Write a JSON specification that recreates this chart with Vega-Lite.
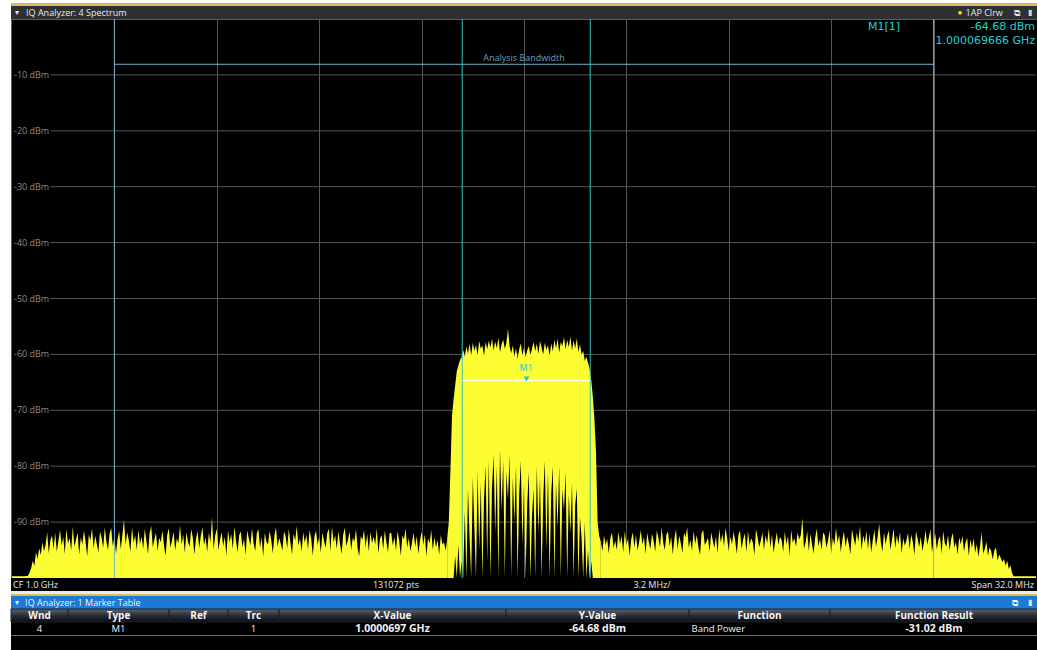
{
"padding": {"left": 10, "top": 3, "right": 0, "bottom": 0},
"background": "#ffffff",
"spacing": 0,
"bounds": "flush",
"config": {"view": {"stroke": null}, "concat": {"spacing": 0}, "text": {"font": "Open Sans"}},
"datasets": {
"noise": [
{"f":-16,"h":-99.7},{"f":-15.9,"h":-99.7},{"f":-15.8,"h":-99.7},{"f":-15.7,"h":-99.7},{"f":-15.6,"h":-99.7},{"f":-15.5,"h":-99.6},{"f":-15.45,"h":-99},{"f":-15.4,"h":-98.2},{"f":-15.35,"h":-96.9},{"f":-15.3,"h":-97.8},{"f":-15.25,"h":-95.4},{"f":-15.2,"h":-96.6},{"f":-15.15,"h":-94.7},{"f":-15.1,"h":-95.9},{"f":-15.05,"h":-93.6},{"f":-15,"h":-95.2},{"f":-14.95,"h":-94.1},{"f":-14.9,"h":-91.8},{"f":-14.85,"h":-95.6},{"f":-14.8,"h":-93.2},{"f":-14.75,"h":-92.4},{"f":-14.7,"h":-94.8},{"f":-14.65,"h":-91.9},{"f":-14.6,"h":-95.3},{"f":-14.55,"h":-93.4},{"f":-14.5,"h":-91.4},
{"f":-14.45,"h":-94.2},{"f":-14.4,"h":-92.6},{"f":-14.35,"h":-95.7},{"f":-14.3,"h":-91.3},{"f":-14.25,"h":-93.8},{"f":-14.2,"h":-92.9},{"f":-14.15,"h":-95.1},{"f":-14.1,"h":-90.8},{"f":-14.05,"h":-94.4},{"f":-14,"h":-93.1},
{"f":-13.95,"h":-91.9},{"f":-13.9,"h":-95.8},{"f":-13.85,"h":-92.7},{"f":-13.8,"h":-94},{"f":-13.75,"h":-91.5},{"f":-13.7,"h":-93.6},{"f":-13.65,"h":-96.1},{"f":-13.6,"h":-92.2},{"f":-13.55,"h":-93.3},{"f":-13.5,"h":-91.1},
{"f":-13.45,"h":-94.7},{"f":-13.4,"h":-92.5},{"f":-13.35,"h":-93.9},{"f":-13.3,"h":-95.4},{"f":-13.25,"h":-91.7},{"f":-13.2,"h":-92.8},{"f":-13.15,"h":-94.6},{"f":-13.1,"h":-90.9},{"f":-13.05,"h":-93.5},{"f":-13,"h":-95},
{"f":-12.95,"h":-92.1},{"f":-12.9,"h":-91},{"f":-12.85,"h":-94.3},{"f":-12.8,"h":-92.7},{"f":-12.75,"h":-95.6},{"f":-12.7,"h":-93},{"f":-12.65,"h":-91.6},{"f":-12.6,"h":-94.9},{"f":-12.55,"h":-92.3},{"f":-12.5,"h":-89.6},
{"f":-12.45,"h":-94.1},{"f":-12.4,"h":-91.8},{"f":-12.35,"h":-93.2},{"f":-12.3,"h":-95.3},{"f":-12.25,"h":-90.9},{"f":-12.2,"h":-93.7},{"f":-12.15,"h":-92.4},{"f":-12.1,"h":-95},{"f":-12.05,"h":-91.4},{"f":-12,"h":-93.9},
{"f":-11.95,"h":-92.6},{"f":-11.9,"h":-94.8},{"f":-11.85,"h":-91.2},{"f":-11.8,"h":-93.4},{"f":-11.75,"h":-95.7},{"f":-11.7,"h":-92},{"f":-11.65,"h":-90.7},{"f":-11.6,"h":-94.5},{"f":-11.55,"h":-93.1},{"f":-11.5,"h":-91.9},
{"f":-11.45,"h":-95.2},{"f":-11.4,"h":-92.8},{"f":-11.35,"h":-93.6},{"f":-11.3,"h":-91.5},{"f":-11.25,"h":-94.2},{"f":-11.2,"h":-96},{"f":-11.15,"h":-92.3},{"f":-11.1,"h":-91.1},{"f":-11.05,"h":-94.6},{"f":-11,"h":-93.3},
{"f":-10.95,"h":-91.7},{"f":-10.9,"h":-95.1},{"f":-10.85,"h":-92.9},{"f":-10.8,"h":-93.8},{"f":-10.75,"h":-90.6},{"f":-10.7,"h":-94},{"f":-10.65,"h":-92.2},{"f":-10.6,"h":-95.5},{"f":-10.55,"h":-91.8},{"f":-10.5,"h":-93.5},
{"f":-10.45,"h":-94.4},{"f":-10.4,"h":-91.3},{"f":-10.35,"h":-92.7},{"f":-10.3,"h":-95.8},{"f":-10.25,"h":-93},{"f":-10.2,"h":-91.6},{"f":-10.15,"h":-94.7},{"f":-10.1,"h":-92.5},{"f":-10.05,"h":-90.9},{"f":-10,"h":-94.1},
{"f":-9.95,"h":-92.8},{"f":-9.9,"h":-95.3},{"f":-9.85,"h":-91.9},{"f":-9.8,"h":-93.6},{"f":-9.75,"h":-89.1},{"f":-9.7,"h":-94.9},{"f":-9.65,"h":-92.4},{"f":-9.6,"h":-91.2},{"f":-9.55,"h":-95},{"f":-9.5,"h":-93.2},
{"f":-9.45,"h":-91.8},{"f":-9.4,"h":-94.3},{"f":-9.35,"h":-92.6},{"f":-9.3,"h":-96},{"f":-9.25,"h":-91.4},{"f":-9.2,"h":-93.7},{"f":-9.15,"h":-92.1},{"f":-9.1,"h":-94.8},{"f":-9.05,"h":-90.8},{"f":-9,"h":-93.4},
{"f":-8.95,"h":-95.4},{"f":-8.9,"h":-92.3},{"f":-8.85,"h":-91.7},{"f":-8.8,"h":-94.5},{"f":-8.75,"h":-93},{"f":-8.7,"h":-95.9},{"f":-8.65,"h":-91.5},{"f":-8.6,"h":-92.9},{"f":-8.55,"h":-94.2},{"f":-8.5,"h":-91.1},
{"f":-8.45,"h":-93.8},{"f":-8.4,"h":-95.2},{"f":-8.35,"h":-92},{"f":-8.3,"h":-91.3},{"f":-8.25,"h":-94.6},{"f":-8.2,"h":-92.7},{"f":-8.15,"h":-96.2},{"f":-8.1,"h":-91.9},{"f":-8.05,"h":-93.5},{"f":-8,"h":-94},
{"f":-7.95,"h":-91.6},{"f":-7.9,"h":-93.1},{"f":-7.85,"h":-95.6},{"f":-7.8,"h":-92.4},{"f":-7.75,"h":-90.9},{"f":-7.7,"h":-94.4},{"f":-7.65,"h":-92.8},{"f":-7.6,"h":-93.9},{"f":-7.55,"h":-95.1},{"f":-7.5,"h":-91.7},
{"f":-7.45,"h":-92.5},{"f":-7.4,"h":-94.7},{"f":-7.35,"h":-91.2},{"f":-7.3,"h":-93.6},{"f":-7.25,"h":-95.8},{"f":-7.2,"h":-92.1},{"f":-7.15,"h":-93.3},{"f":-7.1,"h":-90.7},{"f":-7.05,"h":-94.2},{"f":-7,"h":-92.9},
{"f":-6.95,"h":-95.3},{"f":-6.9,"h":-91.8},{"f":-6.85,"h":-93.7},{"f":-6.8,"h":-92.3},{"f":-6.75,"h":-94.9},{"f":-6.7,"h":-91.4},{"f":-6.65,"h":-93},{"f":-6.6,"h":-96},{"f":-6.55,"h":-92.6},{"f":-6.5,"h":-91.5},
{"f":-6.45,"h":-94.1},{"f":-6.4,"h":-92.7},{"f":-6.35,"h":-95.5},{"f":-6.3,"h":-91.9},{"f":-6.25,"h":-93.4},{"f":-6.2,"h":-94.6},{"f":-6.15,"h":-92},{"f":-6.1,"h":-91.2},{"f":-6.05,"h":-95.2},{"f":-6,"h":-90.8},
{"f":-5.95,"h":-93.6},{"f":-5.9,"h":-92.4},{"f":-5.85,"h":-94.8},{"f":-5.8,"h":-91.6},{"f":-5.75,"h":-93.9},{"f":-5.7,"h":-95.7},{"f":-5.65,"h":-92.2},{"f":-5.6,"h":-91},{"f":-5.55,"h":-94.3},{"f":-5.5,"h":-93.1},
{"f":-5.45,"h":-91.7},{"f":-5.4,"h":-95},{"f":-5.35,"h":-92.8},{"f":-5.3,"h":-93.5},{"f":-5.25,"h":-91.3},{"f":-5.2,"h":-94.7},{"f":-5.15,"h":-96.1},{"f":-5.1,"h":-92.5},{"f":-5.05,"h":-93.2},{"f":-5,"h":-91.4},
{"f":-4.95,"h":-94.5},{"f":-4.9,"h":-92.1},{"f":-4.85,"h":-95.3},{"f":-4.8,"h":-91.8},{"f":-4.75,"h":-93.8},{"f":-4.7,"h":-92.6},{"f":-4.65,"h":-94},{"f":-4.6,"h":-91.1},{"f":-4.55,"h":-95.6},{"f":-4.5,"h":-93},
{"f":-4.45,"h":-92.3},{"f":-4.4,"h":-94.9},{"f":-4.35,"h":-91.5},{"f":-4.3,"h":-93.6},{"f":-4.25,"h":-95.4},{"f":-4.2,"h":-92},{"f":-4.15,"h":-91.9},{"f":-4.1,"h":-94.2},{"f":-4.05,"h":-92.7},{"f":-4,"h":-95.1},
{"f":-3.95,"h":-91.6},{"f":-3.9,"h":-93.4},{"f":-3.85,"h":-96},{"f":-3.8,"h":-92.4},{"f":-3.75,"h":-93.1},{"f":-3.7,"h":-91.2},{"f":-3.65,"h":-94.6},{"f":-3.6,"h":-92.8},{"f":-3.55,"h":-95.2},{"f":-3.5,"h":-93.7},
{"f":-3.45,"h":-91.9},{"f":-3.4,"h":-94.4},{"f":-3.35,"h":-92.5},{"f":-3.3,"h":-95.7},{"f":-3.25,"h":-93.3},{"f":-3.2,"h":-91.7},{"f":-3.15,"h":-94.1},{"f":-3.1,"h":-92.2},{"f":-3.05,"h":-96.1},{"f":-3,"h":-92.9},
{"f":-2.95,"h":-93.8},{"f":-2.9,"h":-91.4},{"f":-2.85,"h":-95},{"f":-2.8,"h":-92.7},{"f":-2.75,"h":-94.5},{"f":-2.7,"h":-93.2},{"f":-2.65,"h":-95.9},{"f":-2.6,"h":-92.3},{"f":-2.55,"h":-94},{"f":-2.5,"h":-93.6},
{"f":-2.45,"h":-95.1},{"f":-2.4,"h":-93},
{"f":2.4,"h":-93.5},{"f":2.45,"h":-95.2},
{"f":2.5,"h":-92.4},{"f":2.55,"h":-94.1},{"f":2.6,"h":-93},{"f":2.65,"h":-95.6},{"f":2.7,"h":-92.8},{"f":2.75,"h":-91.9},{"f":2.8,"h":-94.7},{"f":2.85,"h":-93.3},{"f":2.9,"h":-95},{"f":2.95,"h":-91.7},
{"f":3,"h":-93.9},{"f":3.05,"h":-92.5},{"f":3.1,"h":-95.4},{"f":3.15,"h":-91.6},{"f":3.2,"h":-94.2},{"f":3.25,"h":-92.9},{"f":3.3,"h":-96},{"f":3.35,"h":-93.1},{"f":3.4,"h":-91.8},{"f":3.45,"h":-94.6},
{"f":3.5,"h":-92.3},{"f":3.55,"h":-95.1},{"f":3.6,"h":-93.5},{"f":3.65,"h":-91.4},{"f":3.7,"h":-94},{"f":3.75,"h":-92.7},{"f":3.8,"h":-95.7},{"f":3.85,"h":-91.9},{"f":3.9,"h":-93.6},{"f":3.95,"h":-94.8},
{"f":4,"h":-92.1},{"f":4.05,"h":-93.4},{"f":4.1,"h":-95.3},{"f":4.15,"h":-91.5},{"f":4.2,"h":-92.8},{"f":4.25,"h":-94.5},{"f":4.3,"h":-90.9},{"f":4.35,"h":-93.7},{"f":4.4,"h":-95},{"f":4.45,"h":-92.2},
{"f":4.5,"h":-91.7},{"f":4.55,"h":-94.3},{"f":4.6,"h":-92.6},{"f":4.65,"h":-95.8},{"f":4.7,"h":-93},{"f":4.75,"h":-91.3},{"f":4.8,"h":-94.9},{"f":4.85,"h":-92.4},{"f":4.9,"h":-93.8},{"f":4.95,"h":-95.5},
{"f":5,"h":-91.9},{"f":5.05,"h":-92.7},{"f":5.1,"h":-90.9},{"f":5.15,"h":-94.6},{"f":5.2,"h":-93.2},{"f":5.25,"h":-95.1},{"f":5.3,"h":-91.6},{"f":5.35,"h":-93.9},{"f":5.4,"h":-92.3},{"f":5.45,"h":-94.4},
{"f":5.5,"h":-95.9},{"f":5.55,"h":-92},{"f":5.6,"h":-91.4},{"f":5.65,"h":-94.1},{"f":5.7,"h":-93.5},{"f":5.75,"h":-92.8},{"f":5.8,"h":-95.3},{"f":5.85,"h":-91.8},{"f":5.9,"h":-93.3},{"f":5.95,"h":-94.7},
{"f":6,"h":-92.5},{"f":6.05,"h":-95.6},{"f":6.1,"h":-91.2},{"f":6.15,"h":-93.7},{"f":6.2,"h":-92.1},{"f":6.25,"h":-94.3},{"f":6.3,"h":-91},{"f":6.35,"h":-93},{"f":6.4,"h":-95.2},{"f":6.45,"h":-92.6},
{"f":6.5,"h":-94},{"f":6.55,"h":-91.7},{"f":6.6,"h":-93.4},{"f":6.65,"h":-95.7},{"f":6.7,"h":-92.3},{"f":6.75,"h":-91.5},{"f":6.8,"h":-94.8},{"f":6.85,"h":-93.1},{"f":6.9,"h":-92},{"f":6.95,"h":-95.4},
{"f":7,"h":-91.6},{"f":7.05,"h":-94.2},{"f":7.1,"h":-92.9},{"f":7.15,"h":-93.6},{"f":7.2,"h":-95.9},{"f":7.25,"h":-91.3},{"f":7.3,"h":-92.7},{"f":7.35,"h":-94.5},{"f":7.4,"h":-93.3},{"f":7.45,"h":-91.9},
{"f":7.5,"h":-95},{"f":7.55,"h":-92.4},{"f":7.6,"h":-93.8},{"f":7.65,"h":-91.1},{"f":7.7,"h":-94.6},{"f":7.75,"h":-92.2},{"f":7.8,"h":-95.5},{"f":7.85,"h":-93.5},{"f":7.9,"h":-91.8},{"f":7.95,"h":-94.1},
{"f":8,"h":-92.6},{"f":8.05,"h":-93.2},{"f":8.1,"h":-95.3},{"f":8.15,"h":-91.7},{"f":8.2,"h":-94},{"f":8.25,"h":-92.5},{"f":8.3,"h":-96},{"f":8.35,"h":-91.4},{"f":8.4,"h":-93.7},{"f":8.45,"h":-92.9},
{"f":8.5,"h":-94.4},{"f":8.55,"h":-91.9},{"f":8.6,"h":-93.1},{"f":8.65,"h":-92.3},{"f":8.7,"h":-89.3},{"f":8.75,"h":-94.8},{"f":8.8,"h":-93.6},{"f":8.85,"h":-91.6},{"f":8.9,"h":-95.2},{"f":8.95,"h":-92.1},
{"f":9,"h":-93.9},{"f":9.05,"h":-95.6},{"f":9.1,"h":-92.7},{"f":9.15,"h":-91.2},{"f":9.2,"h":-94.3},{"f":9.25,"h":-93},{"f":9.3,"h":-95},{"f":9.35,"h":-91.8},{"f":9.4,"h":-92.4},{"f":9.45,"h":-94.6},
{"f":9.5,"h":-93.4},{"f":9.55,"h":-91.5},{"f":9.6,"h":-95.7},{"f":9.65,"h":-92.8},{"f":9.7,"h":-94.1},{"f":9.75,"h":-91},{"f":9.8,"h":-93.7},{"f":9.85,"h":-92.2},{"f":9.9,"h":-95.4},{"f":9.95,"h":-93.1},
{"f":10,"h":-91.7},{"f":10.05,"h":-94.5},{"f":10.1,"h":-92.6},{"f":10.15,"h":-93.9},{"f":10.2,"h":-95.8},{"f":10.25,"h":-91.3},{"f":10.3,"h":-92.9},{"f":10.35,"h":-94.2},{"f":10.4,"h":-91.9},{"f":10.45,"h":-93.5},
{"f":10.5,"h":-90.7},{"f":10.55,"h":-95.1},{"f":10.6,"h":-92.3},{"f":10.65,"h":-93.8},{"f":10.7,"h":-91.6},{"f":10.75,"h":-94.9},{"f":10.8,"h":-92},{"f":10.85,"h":-95.5},{"f":10.9,"h":-93.2},{"f":10.95,"h":-91.4},
{"f":11,"h":-94.4},{"f":11.05,"h":-92.7},{"f":11.1,"h":-90.3},{"f":11.15,"h":-93.6},{"f":11.2,"h":-95.3},{"f":11.25,"h":-91.8},{"f":11.3,"h":-94},{"f":11.35,"h":-92.5},{"f":11.4,"h":-91.5},{"f":11.45,"h":-95},
{"f":11.5,"h":-93.1},{"f":11.55,"h":-91.2},{"f":11.6,"h":-94.7},{"f":11.65,"h":-92.4},{"f":11.7,"h":-93.9},{"f":11.75,"h":-91.7},{"f":11.8,"h":-95.6},{"f":11.85,"h":-92.9},{"f":11.9,"h":-94.2},{"f":11.95,"h":-93.3},
{"f":12,"h":-91.9},{"f":12.05,"h":-94.8},{"f":12.1,"h":-92.2},{"f":12.15,"h":-93.5},{"f":12.2,"h":-95.9},{"f":12.25,"h":-91.6},{"f":12.3,"h":-93},{"f":12.35,"h":-94.5},{"f":12.4,"h":-92.6},{"f":12.45,"h":-95.2},
{"f":12.5,"h":-93.7},{"f":12.55,"h":-91.4},{"f":12.6,"h":-94.1},{"f":12.65,"h":-92.8},{"f":12.7,"h":-91.3},{"f":12.75,"h":-95.4},{"f":12.8,"h":-93.4},{"f":12.85,"h":-92},{"f":12.9,"h":-94.9},{"f":12.95,"h":-93.2},
{"f":13,"h":-92.5},{"f":13.05,"h":-95.7},{"f":13.1,"h":-91.6},{"f":13.15,"h":-93.8},{"f":13.2,"h":-94.4},{"f":13.25,"h":-92.3},{"f":13.3,"h":-95.1},{"f":13.35,"h":-93},{"f":13.4,"h":-91.9},{"f":13.45,"h":-94.6},
{"f":13.5,"h":-93.5},{"f":13.55,"h":-95.8},{"f":13.6,"h":-92.7},{"f":13.65,"h":-94},{"f":13.7,"h":-92.4},{"f":13.75,"h":-95.3},{"f":13.8,"h":-93.6},{"f":13.85,"h":-92.8},{"f":13.9,"h":-96.1},{"f":13.95,"h":-93.1},
{"f":14,"h":-94.7},{"f":14.05,"h":-92.9},{"f":14.1,"h":-95.5},{"f":14.15,"h":-93.9},{"f":14.2,"h":-96.2},{"f":14.25,"h":-94.3},{"f":14.3,"h":-91.8},{"f":14.35,"h":-95.6},{"f":14.4,"h":-94.8},{"f":14.45,"h":-93.5},
{"f":14.5,"h":-96},{"f":14.55,"h":-94.5},{"f":14.6,"h":-95.2},{"f":14.65,"h":-96.7},{"f":14.7,"h":-95},{"f":14.75,"h":-94.6},{"f":14.8,"h":-96.9},{"f":14.85,"h":-95.8},{"f":14.9,"h":-96.4},{"f":14.95,"h":-97.2},
{"f":15,"h":-96.6},{"f":15.05,"h":-97.8},{"f":15.1,"h":-96.9},{"f":15.15,"h":-98.4},{"f":15.2,"h":-97.7},{"f":15.25,"h":-99.1},
{"f":15.3,"h":-99.7},{"f":15.4,"h":-99.7},{"f":15.5,"h":-99.7},{"f":15.6,"h":-99.7},{"f":15.7,"h":-99.7},{"f":15.8,"h":-99.7},{"f":15.9,"h":-99.7},{"f":16,"h":-99.7}
],
"band": [
{"f":-2.4,"h":-93,"l":-100},{"f":-2.35,"h":-90,"l":-100},{"f":-2.3,"h":-81,"l":-100},{"f":-2.25,"h":-71,"l":-100},{"f":-2.2,"h":-68,"l":-100},{"f":-2.15,"h":-65.5,"l":-96},{"f":-2.1,"h":-63,"l":-100},{"f":-2.05,"h":-62,"l":-94},{"f":-2,"h":-61,"l":-100},{"f":-1.95,"h":-60.5,"l":-97},{"f":-1.9,"h":-59.2,"l":-100},{"f":-1.85,"h":-60.4,"l":-88},{"f":-1.8,"h":-58.6,"l":-100},{"f":-1.75,"h":-59.9,"l":-84},{"f":-1.7,"h":-58.1,"l":-93},{"f":-1.65,"h":-60.2,"l":-100},{"f":-1.6,"h":-57.9,"l":-82},{"f":-1.55,"h":-59.4,"l":-91},{"f":-1.5,"h":-58.3,"l":-100},{"f":-1.45,"h":-60.1,"l":-81},{"f":-1.4,"h":-57.6,"l":-95},{"f":-1.35,"h":-59,"l":-83},{"f":-1.3,"h":-58.4,"l":-100},{"f":-1.25,"h":-60.3,"l":-86},{"f":-1.2,"h":-57.8,"l":-80},{"f":-1.15,"h":-59.1,"l":-97},{"f":-1.1,"h":-57.5,"l":-79},{"f":-1.05,"h":-58.8,"l":-100},{"f":-1,"h":-57.2,"l":-84},{"f":-0.95,"h":-59.3,"l":-78},{"f":-0.9,"h":-57.7,"l":-92},{"f":-0.85,"h":-58.9,"l":-80},{"f":-0.8,"h":-57,"l":-100},{"f":-0.75,"h":-59.6,"l":-77},{"f":-0.7,"h":-58.2,"l":-88},{"f":-0.65,"h":-57.4,"l":-79},{"f":-0.6,"h":-59,"l":-100},{"f":-0.55,"h":-57.9,"l":-81},{"f":-0.5,"h":-55.4,"l":-86},{"f":-0.45,"h":-58.6,"l":-78},{"f":-0.4,"h":-59.8,"l":-100},{"f":-0.35,"h":-58.4,"l":-82},{"f":-0.3,"h":-60.4,"l":-90},{"f":-0.25,"h":-58.9,"l":-80},{"f":-0.2,"h":-60.8,"l":-100},{"f":-0.15,"h":-59.1,"l":-85},{"f":-0.1,"h":-58,"l":-79},{"f":-0.05,"h":-60.2,"l":-94},{"f":0,"h":-58.7,"l":-83},{"f":0.05,"h":-60.5,"l":-100},{"f":0.1,"h":-59.3,"l":-87},{"f":0.15,"h":-58.5,"l":-81},{"f":0.2,"h":-60.1,"l":-100},{"f":0.25,"h":-59,"l":-89},{"f":0.3,"h":-57.8,"l":-84},{"f":0.35,"h":-59.4,"l":-100},{"f":0.4,"h":-58.1,"l":-80},{"f":0.45,"h":-59.9,"l":-92},{"f":0.5,"h":-57.6,"l":-82},{"f":0.55,"h":-58.8,"l":-100},{"f":0.6,"h":-60,"l":-86},{"f":0.65,"h":-57.9,"l":-79},{"f":0.7,"h":-59.2,"l":-95},{"f":0.75,"h":-58.3,"l":-81},{"f":0.8,"h":-60.3,"l":-100},{"f":0.85,"h":-58,"l":-85},{"f":0.9,"h":-59.5,"l":-80},{"f":0.95,"h":-57.4,"l":-100},{"f":1,"h":-58.9,"l":-83},{"f":1.05,"h":-57.2,"l":-91},{"f":1.1,"h":-59.7,"l":-80},{"f":1.15,"h":-57.8,"l":-100},{"f":1.2,"h":-58.5,"l":-84},{"f":1.25,"h":-56.9,"l":-88},{"f":1.3,"h":-59.1,"l":-81},{"f":1.35,"h":-57.4,"l":-100},{"f":1.4,"h":-58.7,"l":-85},{"f":1.45,"h":-56.8,"l":-92},{"f":1.5,"h":-59.3,"l":-83},{"f":1.55,"h":-57.5,"l":-100},{"f":1.6,"h":-58.9,"l":-87},{"f":1.65,"h":-57.1,"l":-84},{"f":1.7,"h":-59.6,"l":-100},{"f":1.75,"h":-58.2,"l":-89},{"f":1.8,"h":-60,"l":-93},{"f":1.85,"h":-59.4,"l":-100},{"f":1.9,"h":-61.2,"l":-90},{"f":1.95,"h":-60.4,"l":-100},{"f":2,"h":-61.5,"l":-95},{"f":2.05,"h":-62.5,"l":-100},{"f":2.1,"h":-64.5,"l":-97},{"f":2.15,"h":-67.5,"l":-100},{"f":2.2,"h":-71.5,"l":-100},{"f":2.25,"h":-77.5,"l":-100},{"f":2.3,"h":-90,"l":-100},{"f":2.35,"h":-92.5,"l":-100},{"f":2.4,"h":-93.5,"l":-100}
],
"lev": [{"v":-10,"t":"-10 dBm"},{"v":-20,"t":"-20 dBm"},{"v":-30,"t":"-30 dBm"},{"v":-40,"t":"-40 dBm"},{"v":-50,"t":"-50 dBm"},{"v":-60,"t":"-60 dBm"},{"v":-70,"t":"-70 dBm"},{"v":-80,"t":"-80 dBm"},{"v":-90,"t":"-90 dBm"}],
"m1": [{"f":0.0697,"y":-64.68,"lo":-1.9303,"hi":2.0697}],
"abw": [{"a":-12.8,"b":12.8,"y":-8.1}],
"table": [
{"c":"Wnd","v":"4"},{"c":"Type","v":"M1"},{"c":"Ref","v":""},{"c":"Trc","v":"1"},{"c":"X-Value","v":"1.0000697 GHz"},{"c":"Y-Value","v":"-64.68 dBm"},{"c":"Function","v":"Band Power"},{"c":"Function Result","v":"-31.02 dBm"}
]
},
"vconcat": [
{"width":1027,"height":3,"view":{"fill":"#d8bb5c","stroke":null},"data":{"values":[]},"mark":"point"},
{"width":1027,"height":13,"view":{"fill":"#2d3134","stroke":null},"data":{"values":[{}]},
 "layer":[
  {"mark":{"type":"text","text":"▾","color":"#e6e6e6","fontSize":8,"align":"center","baseline":"middle"},
   "encoding":{"x":{"datum":-15.84,"type":"quantitative","scale":{"domain":[-16,16],"range":[1,1025],"nice":false,"zero":false},"axis":null}}},
  {"mark":{"type":"text","text":"IQ Analyzer: 4 Spectrum","color":"#e8e8e8","fontSize":9,"align":"left","baseline":"middle"},
   "encoding":{"x":{"datum":-15.56,"type":"quantitative"}}},
  {"mark":{"type":"text","text":"●","color":"#f0e020","fontSize":8,"align":"center","baseline":"middle"},
   "encoding":{"x":{"datum":13.62,"type":"quantitative"}}},
  {"mark":{"type":"text","text":"1AP Clrw","color":"#e8e8e8","fontSize":9,"align":"left","baseline":"middle"},
   "encoding":{"x":{"datum":13.8,"type":"quantitative"}}},
  {"mark":{"type":"text","text":"⧉","color":"#e8e8e8","fontSize":9,"align":"center","baseline":"middle"},
   "encoding":{"x":{"datum":15.41,"type":"quantitative"}}},
  {"mark":{"type":"text","text":"▮","color":"#d8d8d8","fontSize":8,"align":"center","baseline":"middle"},
   "encoding":{"x":{"datum":15.82,"type":"quantitative"}}}
 ]},
{"width":1027,"height":559,"view":{"fill":"#000000","stroke":"#5c5c5c","strokeWidth":1},
 "layer":[
  {"data":{"name":"lev"},"mark":{"type":"rule","color":"#555555","strokeWidth":1},
   "encoding":{
    "x":{"datum":-14.8,"type":"quantitative","scale":{"domain":[-16,16],"range":[1,1025],"nice":false,"zero":false},
     "axis":{"values":[-12.8,-9.6,-6.4,-3.2,0,3.2,6.4,9.6,12.8],"grid":true,"gridColor":"#555555","gridWidth":1,"labels":false,"ticks":false,"domain":false,"title":null}},
    "x2":{"datum":16},
    "y":{"field":"v","type":"quantitative","scale":{"domain":[-100,0],"nice":false,"zero":false},"axis":null}}},
  {"data":{"name":"lev"},"mark":{"type":"text","color":"#8a8a8a","fontSize":9,"align":"left","baseline":"middle","dx":2},
   "encoding":{"x":{"datum":-16,"type":"quantitative"},"y":{"field":"v","type":"quantitative"},"text":{"field":"t"}}},
  {"data":{"name":"noise"},"transform":[{"filter":"datum.f < 0"}],
   "mark":{"type":"area","color":"#fdfd33","interpolate":"linear"},
   "encoding":{"x":{"field":"f","type":"quantitative"},"y":{"field":"h","type":"quantitative"},"y2":{"datum":-100}}},
  {"data":{"name":"noise"},"transform":[{"filter":"datum.f > 0"}],
   "mark":{"type":"area","color":"#fdfd33","interpolate":"linear"},
   "encoding":{"x":{"field":"f","type":"quantitative"},"y":{"field":"h","type":"quantitative"},"y2":{"datum":-100}}},
  {"data":{"name":"band"},
   "mark":{"type":"area","color":"#fdfd33","interpolate":"linear"},
   "encoding":{"x":{"field":"f","type":"quantitative"},"y":{"field":"h","type":"quantitative"},"y2":{"field":"l"}}},
  {"data":{"name":"abw"},"mark":{"type":"rule","color":"#74b3d4","strokeWidth":1},
   "encoding":{"x":{"field":"a","type":"quantitative"}}},
  {"data":{"name":"abw"},"mark":{"type":"rule","color":"#74b3d4","strokeWidth":1},
   "encoding":{"x":{"field":"b","type":"quantitative"}}},
  {"data":{"name":"abw"},"mark":{"type":"rule","color":"#74b3d4","strokeWidth":1},
   "encoding":{"x":{"field":"a","type":"quantitative"},"x2":{"field":"b"},"y":{"field":"y","type":"quantitative"}}},
  {"data":{"name":"abw"},"mark":{"type":"text","text":"Analysis Bandwidth","color":"#6c9dbd","fontSize":9,"align":"center","baseline":"bottom","dy":-1},
   "encoding":{"x":{"datum":0,"type":"quantitative"},"y":{"field":"y","type":"quantitative"}}},
  {"data":{"name":"m1"},"mark":{"type":"rule","color":"#2fc4c8","strokeWidth":1},
   "encoding":{"x":{"field":"lo","type":"quantitative"}}},
  {"data":{"name":"m1"},"mark":{"type":"rule","color":"#2fc4c8","strokeWidth":1},
   "encoding":{"x":{"field":"hi","type":"quantitative"}}},
  {"data":{"name":"m1"},"mark":{"type":"rule","color":"#ffffff","strokeWidth":1},
   "encoding":{"x":{"field":"lo","type":"quantitative"},"x2":{"field":"hi"},"y":{"field":"y","type":"quantitative"}}},
  {"data":{"name":"m1"},"mark":{"type":"text","text":"▼","font":"DejaVu Sans","color":"#1fd0d0","fontSize":7,"align":"center","baseline":"bottom","dy":1},
   "encoding":{"x":{"field":"f","type":"quantitative"},"y":{"field":"y","type":"quantitative"}}},
  {"data":{"name":"m1"},"mark":{"type":"text","text":"M1","color":"#2ac8c8","fontSize":9,"align":"center","baseline":"bottom","dy":-8},
   "encoding":{"x":{"field":"f","type":"quantitative"},"y":{"field":"y","type":"quantitative"}}},
  {"data":{"values":[{}]},"mark":{"type":"text","text":"M1[1]","color":"#1fd0d0","font":"DejaVu Sans","fontSize":11,"align":"center","baseline":"middle"},
   "encoding":{"x":{"datum":11.25,"type":"quantitative"},"y":{"datum":-1.43,"type":"quantitative"}}},
  {"data":{"values":[{}]},"mark":{"type":"text","text":"-64.68 dBm","color":"#1fd0d0","font":"DejaVu Sans","fontSize":11,"align":"right","baseline":"middle","dx":-1},
   "encoding":{"x":{"datum":16,"type":"quantitative"},"y":{"datum":-1.43,"type":"quantitative"}}},
  {"data":{"values":[{}]},"mark":{"type":"text","text":"1.000069666 GHz","color":"#1fd0d0","font":"DejaVu Sans","fontSize":11,"align":"right","baseline":"middle","dx":-1},
   "encoding":{"x":{"datum":16,"type":"quantitative"},"y":{"datum":-3.95,"type":"quantitative"}}}
 ]},
{"width":1027,"height":13,"view":{"fill":"#000000","stroke":null},"data":{"values":[{}]},
 "layer":[
  {"mark":{"type":"text","text":"CF 1.0 GHz","color":"#eaeaea","fontSize":9,"align":"left","baseline":"middle","dx":1},
   "encoding":{"x":{"datum":-16,"type":"quantitative","scale":{"domain":[-16,16],"range":[1,1025],"nice":false,"zero":false},"axis":null}}},
  {"mark":{"type":"text","text":"131072 pts","color":"#eaeaea","fontSize":9,"align":"center","baseline":"middle"},
   "encoding":{"x":{"datum":-4,"type":"quantitative"}}},
  {"mark":{"type":"text","text":"3.2 MHz/","color":"#eaeaea","fontSize":9,"align":"center","baseline":"middle"},
   "encoding":{"x":{"datum":4,"type":"quantitative"}}},
  {"mark":{"type":"text","text":"Span 32.0 MHz","color":"#eaeaea","fontSize":9,"align":"right","baseline":"middle","dx":-2},
   "encoding":{"x":{"datum":16,"type":"quantitative"}}}
 ]},
{"width":1027,"height":3,"view":{"fill":"#ececec","stroke":null},"data":{"values":[]},"mark":"point"},
{"width":1027,"height":2,"view":{"fill":"#d8bb5c","stroke":null},"data":{"values":[]},"mark":"point"},
{"width":1027,"height":13,"view":{"fill":"#1c79d4","stroke":null},"data":{"values":[{}]},
 "layer":[
  {"mark":{"type":"text","text":"▾","color":"#e8f0fa","fontSize":8,"align":"center","baseline":"middle"},
   "encoding":{"x":{"datum":-15.84,"type":"quantitative","scale":{"domain":[-16,16],"range":[1,1025],"nice":false,"zero":false},"axis":null}}},
  {"mark":{"type":"text","text":"IQ Analyzer: 1 Marker Table","color":"#eef3fa","fontSize":9,"align":"left","baseline":"middle"},
   "encoding":{"x":{"datum":-15.59,"type":"quantitative"}}},
  {"mark":{"type":"text","text":"⧉","color":"#ffffff","fontSize":9,"align":"center","baseline":"middle"},
   "encoding":{"x":{"datum":15.34,"type":"quantitative"}}},
  {"mark":{"type":"text","text":"▮","color":"#e8e8e8","fontSize":8,"align":"center","baseline":"middle"},
   "encoding":{"x":{"datum":15.81,"type":"quantitative"}}}
 ]},
{"width":1027,"height":26,"view":{"fill":"#000000","stroke":null},"data":{"name":"table"},
 "resolve":{"scale":{"x":"independent"}},
 "layer":[
  {"transform":[{"filter":"datum.c === 'Wnd'"}],
   "encoding":{"x":{"field":"c","type":"nominal","scale":{"range":[0,57],"paddingInner":0,"paddingOuter":0},"axis":null}},
   "layer":[
    {"mark":{"type":"rect","stroke":"#1e2027","strokeWidth":1,"fill":{"gradient":"linear","x1":0,"y1":0,"x2":0,"y2":1,"stops":[{"offset":0,"color":"#5e636f"},{"offset":0.5,"color":"#2b2e37"},{"offset":1,"color":"#0c0d12"}]}},
     "encoding":{"y":{"datum":"h","type":"nominal","scale":{"domain":["h","v"],"paddingInner":0,"paddingOuter":0},"axis":null}}},
    {"mark":{"type":"text","color":"#f4f4f4","fontWeight":"bold","fontSize":10},"encoding":{"y":{"datum":"h","type":"nominal"},"text":{"field":"c"}}},
    {"mark":{"type":"text","color":"#f2f2f2","fontSize":9.5},"encoding":{"y":{"datum":"v","type":"nominal"},"text":{"field":"v"}}}
   ]},
  {"transform":[{"filter":"datum.c === 'Type'"}],
   "encoding":{"x":{"field":"c","type":"nominal","scale":{"range":[57,158],"paddingInner":0,"paddingOuter":0},"axis":null}},
   "layer":[
    {"mark":{"type":"rect","stroke":"#1e2027","strokeWidth":1,"fill":{"gradient":"linear","x1":0,"y1":0,"x2":0,"y2":1,"stops":[{"offset":0,"color":"#5e636f"},{"offset":0.5,"color":"#2b2e37"},{"offset":1,"color":"#0c0d12"}]}},
     "encoding":{"y":{"datum":"h","type":"nominal"}}},
    {"mark":{"type":"text","color":"#f4f4f4","fontWeight":"bold","fontSize":10},"encoding":{"y":{"datum":"h","type":"nominal"},"text":{"field":"c"}}},
    {"mark":{"type":"text","color":"#f2f2f2","fontSize":9.5},"encoding":{"y":{"datum":"v","type":"nominal"},"text":{"field":"v"}}}
   ]},
  {"transform":[{"filter":"datum.c === 'Ref'"}],
   "encoding":{"x":{"field":"c","type":"nominal","scale":{"range":[158,217],"paddingInner":0,"paddingOuter":0},"axis":null}},
   "layer":[
    {"mark":{"type":"rect","stroke":"#1e2027","strokeWidth":1,"fill":{"gradient":"linear","x1":0,"y1":0,"x2":0,"y2":1,"stops":[{"offset":0,"color":"#5e636f"},{"offset":0.5,"color":"#2b2e37"},{"offset":1,"color":"#0c0d12"}]}},
     "encoding":{"y":{"datum":"h","type":"nominal"}}},
    {"mark":{"type":"text","color":"#f4f4f4","fontWeight":"bold","fontSize":10},"encoding":{"y":{"datum":"h","type":"nominal"},"text":{"field":"c"}}},
    {"mark":{"type":"text","color":"#f2f2f2","fontSize":9.5},"encoding":{"y":{"datum":"v","type":"nominal"},"text":{"field":"v"}}}
   ]},
  {"transform":[{"filter":"datum.c === 'Trc'"}],
   "encoding":{"x":{"field":"c","type":"nominal","scale":{"range":[217,268],"paddingInner":0,"paddingOuter":0},"axis":null}},
   "layer":[
    {"mark":{"type":"rect","stroke":"#1e2027","strokeWidth":1,"fill":{"gradient":"linear","x1":0,"y1":0,"x2":0,"y2":1,"stops":[{"offset":0,"color":"#5e636f"},{"offset":0.5,"color":"#2b2e37"},{"offset":1,"color":"#0c0d12"}]}},
     "encoding":{"y":{"datum":"h","type":"nominal"}}},
    {"mark":{"type":"text","color":"#f4f4f4","fontWeight":"bold","fontSize":10},"encoding":{"y":{"datum":"h","type":"nominal"},"text":{"field":"c"}}},
    {"mark":{"type":"text","color":"#f2f2f2","fontSize":9.5},"encoding":{"y":{"datum":"v","type":"nominal"},"text":{"field":"v"}}}
   ]},
  {"transform":[{"filter":"datum.c === 'X-Value'"}],
   "encoding":{"x":{"field":"c","type":"nominal","scale":{"range":[268,495],"paddingInner":0,"paddingOuter":0},"axis":null}},
   "layer":[
    {"mark":{"type":"rect","stroke":"#1e2027","strokeWidth":1,"fill":{"gradient":"linear","x1":0,"y1":0,"x2":0,"y2":1,"stops":[{"offset":0,"color":"#5e636f"},{"offset":0.5,"color":"#2b2e37"},{"offset":1,"color":"#0c0d12"}]}},
     "encoding":{"y":{"datum":"h","type":"nominal"}}},
    {"mark":{"type":"text","color":"#f4f4f4","fontWeight":"bold","fontSize":10},"encoding":{"y":{"datum":"h","type":"nominal"},"text":{"field":"c"}}},
    {"mark":{"type":"text","color":"#f2f2f2","fontWeight":"bold","fontSize":10.5},"encoding":{"y":{"datum":"v","type":"nominal"},"text":{"field":"v"}}}
   ]},
  {"transform":[{"filter":"datum.c === 'Y-Value'"}],
   "encoding":{"x":{"field":"c","type":"nominal","scale":{"range":[495,678],"paddingInner":0,"paddingOuter":0},"axis":null}},
   "layer":[
    {"mark":{"type":"rect","stroke":"#1e2027","strokeWidth":1,"fill":{"gradient":"linear","x1":0,"y1":0,"x2":0,"y2":1,"stops":[{"offset":0,"color":"#5e636f"},{"offset":0.5,"color":"#2b2e37"},{"offset":1,"color":"#0c0d12"}]}},
     "encoding":{"y":{"datum":"h","type":"nominal"}}},
    {"mark":{"type":"text","color":"#f4f4f4","fontWeight":"bold","fontSize":10},"encoding":{"y":{"datum":"h","type":"nominal"},"text":{"field":"c"}}},
    {"mark":{"type":"text","color":"#f2f2f2","fontWeight":"bold","fontSize":10.5},"encoding":{"y":{"datum":"v","type":"nominal"},"text":{"field":"v"}}}
   ]},
  {"transform":[{"filter":"datum.c === 'Function'"}],
   "encoding":{"x":{"field":"c","type":"nominal","scale":{"range":[678,819],"paddingInner":0,"paddingOuter":0},"axis":null}},
   "layer":[
    {"mark":{"type":"rect","stroke":"#1e2027","strokeWidth":1,"fill":{"gradient":"linear","x1":0,"y1":0,"x2":0,"y2":1,"stops":[{"offset":0,"color":"#5e636f"},{"offset":0.5,"color":"#2b2e37"},{"offset":1,"color":"#0c0d12"}]}},
     "encoding":{"y":{"datum":"h","type":"nominal"}}},
    {"mark":{"type":"text","color":"#f4f4f4","fontWeight":"bold","fontSize":10},"encoding":{"y":{"datum":"h","type":"nominal"},"text":{"field":"c"}}},
    {"mark":{"type":"text","color":"#f2f2f2","fontSize":9.5,"align":"left","dx":-68},"encoding":{"y":{"datum":"v","type":"nominal"},"text":{"field":"v"}}}
   ]},
  {"transform":[{"filter":"datum.c === 'Function Result'"}],
   "encoding":{"x":{"field":"c","type":"nominal","scale":{"range":[819,1027],"paddingInner":0,"paddingOuter":0},"axis":null}},
   "layer":[
    {"mark":{"type":"rect","stroke":"#1e2027","strokeWidth":1,"fill":{"gradient":"linear","x1":0,"y1":0,"x2":0,"y2":1,"stops":[{"offset":0,"color":"#5e636f"},{"offset":0.5,"color":"#2b2e37"},{"offset":1,"color":"#0c0d12"}]}},
     "encoding":{"y":{"datum":"h","type":"nominal"}}},
    {"mark":{"type":"text","color":"#f4f4f4","fontWeight":"bold","fontSize":10},"encoding":{"y":{"datum":"h","type":"nominal"},"text":{"field":"c"}}},
    {"mark":{"type":"text","color":"#f2f2f2","fontWeight":"bold","fontSize":10.5},"encoding":{"y":{"datum":"v","type":"nominal"},"text":{"field":"v"}}}
   ]}
 ]},
{"width":1027,"height":1,"view":{"fill":"#6a6a6a","stroke":null},"data":{"values":[]},"mark":"point"},
{"width":1027,"height":14,"view":{"fill":"#000000","stroke":null},"data":{"values":[]},"mark":"point"}
]
}
